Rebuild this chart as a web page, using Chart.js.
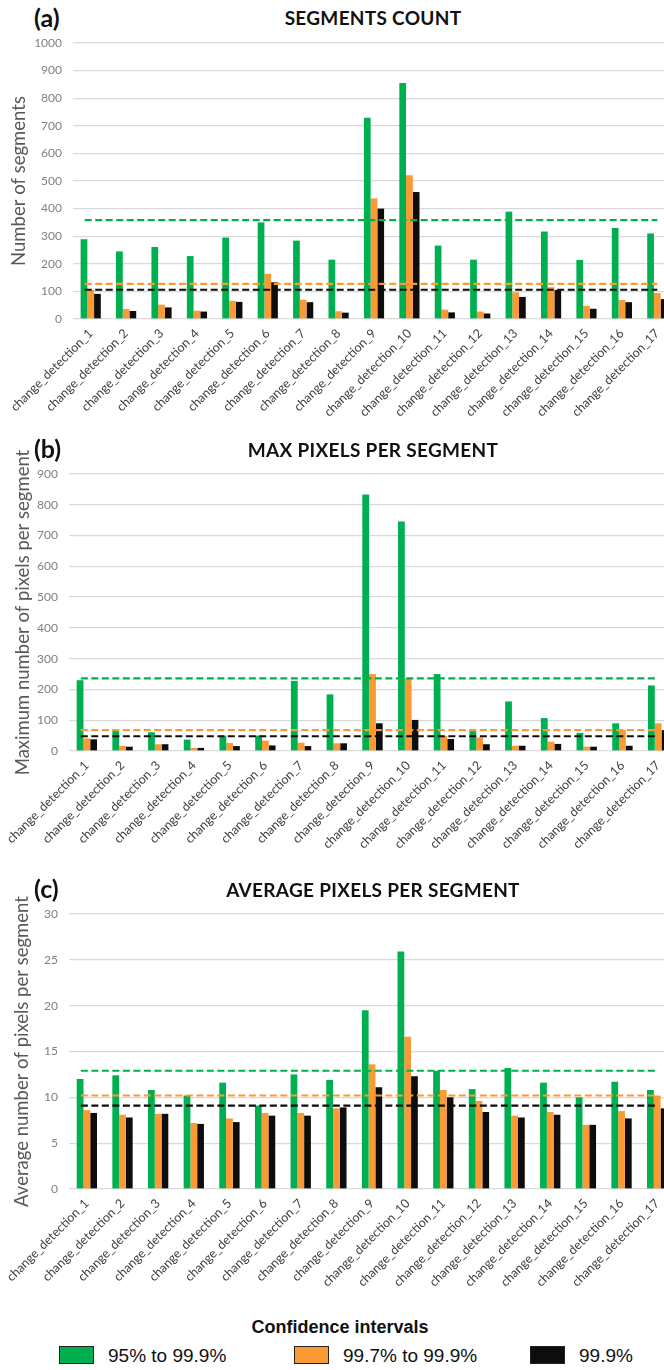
<!DOCTYPE html>
<html>
<head>
<meta charset="utf-8">
<script src="https://cdn.jsdelivr.net/npm/chart.js@4.4.1/dist/chart.umd.min.js"></script>
<style>
html, body { margin: 0; padding: 0; width: 664px; height: 1370px; overflow: hidden; background: #fff; }
.box { position: absolute; left: 0; width: 680px; }
.letter { position: absolute; left: 34px; font: bold 25px Lato, sans-serif; color: #111; }
.title { position: absolute; left: 200px; width: 346px; text-align: center; font: bold 19px Lato, sans-serif; color: #111; letter-spacing: 0.3px; }
#legendTitle { position: absolute; top: 1317px; left: 0; width: 680px; text-align: center; font: bold 18px "Liberation Sans", Arial, sans-serif; color: #111; }
.item { position: absolute; top: 1346px; font: 19px "Liberation Sans", Arial, sans-serif; color: #111; line-height: 20px; }
.swatch { display: inline-block; width: 33px; height: 16px; border: 1.5px solid #222; vertical-align: -2px; margin-right: 14px; }
</style>
</head>
<body>

<div class="letter" style="top:2px">(a)</div>
<div class="title" style="top:6px">SEGMENTS COUNT</div>
<div class="box" style="top:0px;height:440px"><canvas id="chartA"></canvas></div>

<div class="letter" style="top:433px">(b)</div>
<div class="title" style="top:438px">MAX PIXELS PER SEGMENT</div>
<div class="box" style="top:440px;height:440px"><canvas id="chartB"></canvas></div>

<div class="letter" style="top:873px">(c)</div>
<div class="title" style="top:878px">AVERAGE PIXELS PER SEGMENT</div>
<div class="box" style="top:880px;height:420px"><canvas id="chartC"></canvas></div>

<div id="legendTitle">Confidence intervals</div>
<div id="legendBox"></div>

<script>
var names = ["change_detection_1", "change_detection_2", "change_detection_3", "change_detection_4",
    "change_detection_5", "change_detection_6", "change_detection_7", "change_detection_8",
    "change_detection_9", "change_detection_10", "change_detection_11", "change_detection_12",
    "change_detection_13", "change_detection_14", "change_detection_15", "change_detection_16",
    "change_detection_17"];

var seriesNames = ["95% to 99.9%", "99.7% to 99.9%", "99.9%"];
var seriesColors = ["#00b050", "#fb9a35", "#0d0d0d"];

// (a) segments count
var countGreen = [289, 245, 261, 228, 295, 350, 284, 215, 729, 855, 266, 215, 389, 317, 214, 330, 310];
var countOrange = [106, 36, 52, 30, 66, 164, 70, 28, 437, 521, 34, 27, 97, 115, 48, 69, 94];
var countBlack = [91, 29, 42, 27, 62, 133, 61, 23, 400, 460, 24, 20, 80, 105, 37, 61, 72];
var countMeans = [358, 127, 106];

// (b) max pixels per segment
var maxGreen = [230, 70, 61, 37, 50, 50, 228, 184, 833, 746, 250, 67, 161, 107, 59, 90, 213];
var maxOrange = [41, 17, 22, 10, 26, 34, 27, 25, 250, 236, 49, 44, 17, 30, 14, 68, 90];
var maxBlack = [38, 14, 22, 10, 16, 18, 16, 25, 90, 101, 39, 22, 17, 23, 14, 17, 68];
var maxMeans = [236, 68, 48];

// (c) average pixels per segment
var avgGreen = [12.0, 12.4, 10.8, 10.2, 11.6, 9.1, 12.5, 11.9, 19.5, 25.9, 12.9, 10.9, 13.2, 11.6, 10.0, 11.7, 10.8];
var avgOrange = [8.6, 8.1, 8.2, 7.2, 7.7, 8.3, 8.3, 8.8, 13.6, 16.6, 10.8, 9.6, 8.0, 8.4, 7.0, 8.5, 10.2];
var avgBlack = [8.3, 7.8, 8.2, 7.1, 7.3, 8.0, 8.0, 8.9, 11.1, 12.3, 10.0, 8.4, 7.8, 8.1, 7.0, 7.7, 8.8];
var avgMeans = [12.9, 10.2, 9.1];


// dashed mean lines, drawn over the bars
var meanLines = {
    id: 'meanLines',
    afterDatasetsDraw: function(chart, args, opts) {
        var xs = chart.scales.x;
        var ys = chart.scales.y;
        var ctx = chart.ctx;
        var x0 = xs.getPixelForValue(0) - 6;
        var x1 = Math.min(xs.getPixelForValue(names.length - 1), 658);
        ctx.save();
        ctx.lineWidth = 2.2;
        ctx.setLineDash([7, 3.5]);
        for (var i = 0; i < opts.values.length; i++) {
            var y = ys.getPixelForValue(opts.values[i]);
            ctx.strokeStyle = seriesColors[i];
            ctx.beginPath();
            ctx.moveTo(x0, y);
            ctx.lineTo(x1, y);
            ctx.stroke();
        }
        ctx.restore();
    }
};


function makeChart(id, g, o, b, means, yTitle, yMax, yStep, yWidth, padTop, padRight, xHeight) {
    var sets = [g, o, b];
    var datasets = [];
    for (var i = 0; i < 3; i++) {
        datasets.push({
            label: seriesNames[i],
            data: sets[i],
            backgroundColor: seriesColors[i],
            borderWidth: 0,
            barPercentage: 1.0,
            categoryPercentage: 0.57
        });
    }

    return new Chart(document.getElementById(id), {
        type: 'bar',
        data: { labels: names, datasets: datasets },
        options: {
            responsive: true,
            maintainAspectRatio: false,
            animation: false,
            layout: { padding: { top: padTop, right: padRight, left: 0, bottom: 0 } },
            plugins: {
                legend: { display: false },
                tooltip: { enabled: false },
                meanLines: { values: means }
            },
            scales: {
                x: {
                    grid: { display: false, drawTicks: false },
                    border: { display: false },
                    ticks: {
                        minRotation: 45,
                        maxRotation: 45,
                        padding: 7,
                        color: '#404040',
                        font: { family: 'Lato', size: 12.5 }
                    },
                    afterFit: function(s) { s.height = xHeight; }
                },
                y: {
                    min: 0,
                    max: yMax,
                    grid: { color: '#d9d9d9', lineWidth: 1.3, drawTicks: false },
                    border: { display: false },
                    ticks: {
                        stepSize: yStep,
                        padding: 11,
                        color: '#808080',
                        font: { family: 'Lato', size: 12 },
                        callback: function(v) { return String(v); }
                    },
                    title: {
                        display: true,
                        text: yTitle,
                        color: '#595959',
                        padding: { top: 8, bottom: 0 },
                        font: { family: 'Lato', size: 18.5 }
                    },
                    afterFit: function(s) { s.width = yWidth; }
                }
            }
        },
        plugins: [meanLines]
    });
}

makeChart('chartA', countGreen, countOrange, countBlack, countMeans,
    'Number of segments', 1000, 100, 73, 43, 5, 121);
makeChart('chartB', maxGreen, maxOrange, maxBlack, maxMeans,
    'Maximum number of pixels per segment', 900, 100, 65, 34, 4, 129);
makeChart('chartC', avgGreen, avgOrange, avgBlack, avgMeans,
    'Average number of pixels per segment', 30, 5, 66, 34, 5, 111);


// legend under the three panels
var legendBox = document.getElementById('legendBox');
var itemLeft = [59, 294, 530];
for (var k = 0; k < seriesNames.length; k++) {
    var item = document.createElement('div');
    item.className = 'item';
    item.style.left = itemLeft[k] + 'px';
    var sw = document.createElement('span');
    sw.className = 'swatch';
    sw.style.background = seriesColors[k];
    item.appendChild(sw);
    item.appendChild(document.createTextNode(seriesNames[k]));
    legendBox.appendChild(item);
}
</script>
</body>
</html>
